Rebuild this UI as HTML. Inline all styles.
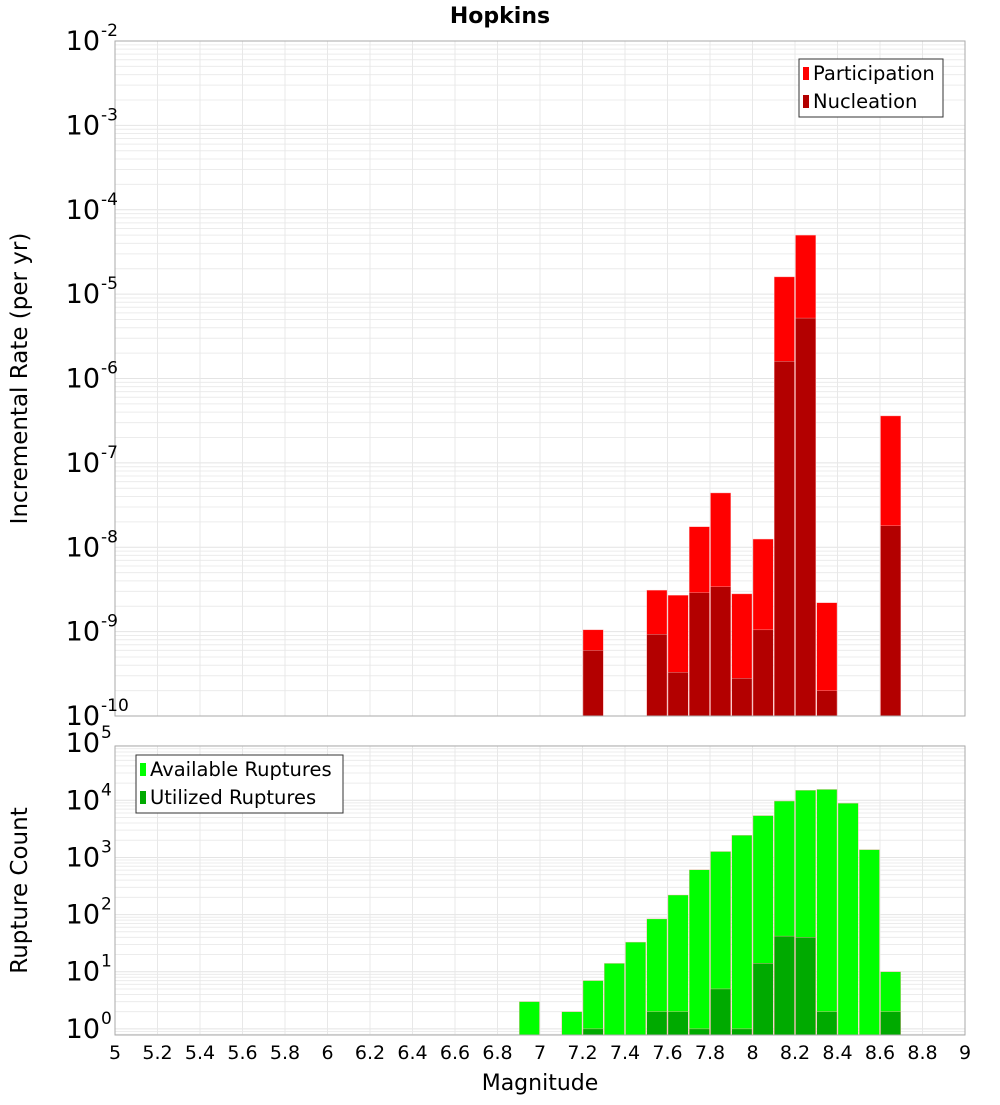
<!DOCTYPE html>
<html><head><meta charset="utf-8"><style>
body{margin:0;background:#fff;}
svg text{font-family:"DejaVu Sans","Liberation Sans",sans-serif;}
</style></head><body>
<svg id="chart" width="1000" height="1100" xmlns="http://www.w3.org/2000/svg">
<text x="500" y="23" text-anchor="middle" font-size="22" font-weight="bold">Hopkins</text>
<g id="top"></g><g id="bot"></g>
</svg>
<script>
const rateBins = [7.25, 7.55, 7.65, 7.75, 7.85, 7.95, 8.05, 8.15, 8.25, 8.35, 8.65];
const participation = [1.05e-9, 3.1e-9, 2.7e-9, 1.75e-8, 4.4e-8, 2.8e-9, 1.25e-8, 1.6e-5, 5e-5, 2.2e-9, 3.6e-7];
const nucleation = [6e-10, 9.3e-10, 3.3e-10, 2.9e-9, 3.4e-9, 2.8e-10, 1.05e-9, 1.6e-6, 5.2e-6, 2e-10, 1.8e-8];
const countBins = [6.95, 7.15, 7.25, 7.35, 7.45, 7.55, 7.65, 7.75, 7.85, 7.95, 8.05, 8.15, 8.25, 8.35, 8.45, 8.55, 8.65];
const available = [3, 2, 7, 14, 33, 84, 220, 610, 1270, 2450, 5400, 9700, 15000, 15500, 8900, 1370, 10];
const utilized = [0, 0, 1, 0, 0, 2, 2, 1, 5, 1, 14, 42, 40, 2, 0, 0, 2];
const xTicks = [5,5.2,5.4,5.6,5.8,6,6.2,6.4,6.6,6.8,7,7.2,7.4,7.6,7.8,8,8.2,8.4,8.6,8.8,9];
const topExps = [-2,-3,-4,-5,-6,-7,-8,-9,-10];
const botExps = [5,4,3,2,1,0];

const NS="http://www.w3.org/2000/svg";
const X0=115,X1=965;
const xs=m=>X0+(m-5)/4*(X1-X0);
function mk(parent,tag,attrs,txt){const e=document.createElementNS(NS,tag);for(const k in attrs)e.setAttribute(k,attrs[k]);if(txt!==undefined)e.textContent=txt;parent.appendChild(e);return e;}

function panel(g,top,bot,lmax,lmin,ylab,exps,bins,s1,s2,c1,c2,leg,names){
  const ys=v=>top+(lmax-Math.log10(v))/(lmax-lmin)*(bot-top);
  const lo=Math.pow(10,lmin);
  for(let d=Math.floor(lmin);d<lmax;d++){for(let k=1;k<10;k++){const v=k*Math.pow(10,d);if(v<lo)continue;const y=ys(v);
    const l=mk(g,'line',{x1:X0,x2:X1,y1:y,y2:y,stroke:k==1?'#e4e4e4':'#ececec','stroke-width':1});
    }}
  xTicks.forEach(t=>{const l=mk(g,'line',{x1:xs(t),x2:xs(t),y1:top,y2:bot,stroke:'#e8e8e8'});
    });
  const bw=(X1-X0)/40;
  bins.forEach((b,i)=>{[[s1,c1,names[0]],[s2,c2,names[1]]].forEach(([s,c,n])=>{const v=s[i];if(!(v>0))return;
    const y=Math.max(top,ys(v));const r=mk(g,'rect',{x:xs(b-0.05)+0.5,y:y,width:bw-1,height:bot-y,fill:c,stroke:'#ffb0b0','stroke-width':0.4});
    });});
  const f=mk(g,'rect',{x:X0,y:top,width:X1-X0,height:bot-top,fill:'none',stroke:'#aaa'});
  
  exps.forEach(e=>{const y=ys(Math.pow(10,e));
    const t=mk(g,'text',{x:100,y:y+9,'text-anchor':'end','font-size':27},'10');
    
    const s=mk(g,'text',{x:101,y:y-5,'font-size':17},String(e));
    });
  const cy=(top+bot)/2;
  const yl=mk(g,'text',{x:0,y:0,transform:`translate(27,${cy}) rotate(-90)`,'text-anchor':'middle','font-size':23},ylab);
  
  const lg=mk(g,'g',{});
  mk(lg,'rect',{x:leg.x,y:leg.y,width:leg.w,height:58,fill:'#fff',stroke:'#333'});
  [[c1,leg.l1],[c2,leg.l2]].forEach(([c,l],i)=>{const yy=leg.y+14+i*28;
    mk(lg,'rect',{x:leg.x+4,y:yy-6,width:6,height:13,fill:c});
    const t=mk(lg,'text',{x:leg.x+14,y:yy+7,'font-size':19.5},l);
    });
}
panel(document.getElementById('top'),41,716,-2,-10,'Incremental Rate (per yr)',topExps,rateBins,participation,nucleation,'#ff0000','#b30000',
  {x:799,y:59,w:144,l1:'Participation',l2:'Nucleation'},['participation','nucleation']);
panel(document.getElementById('bot'),746,1035,4.95,-0.107,'Rupture Count',botExps,countBins,available,utilized,'#00ff00','#00aa00',
  {x:136,y:755,w:207,l1:'Available Ruptures',l2:'Utilized Ruptures'},['available','utilized']);
const bg=document.getElementById('bot');
xTicks.forEach(t=>{const e=mk(bg,'text',{x:xs(t),y:1059,'text-anchor':'middle','font-size':19},String(t));
  });
const xl=mk(bg,'text',{x:540,y:1090,'text-anchor':'middle','font-size':22},'Magnitude');

</script>
</body></html>
